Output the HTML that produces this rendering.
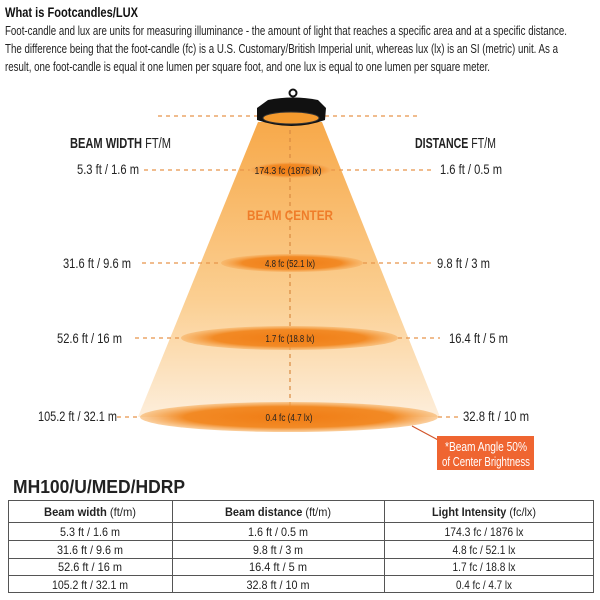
<!DOCTYPE html>
<html><head><meta charset="utf-8"><style>
html,body{margin:0;padding:0;background:#fff;}
svg{display:block;}
text{font-family:"Liberation Sans Narrow","Liberation Sans",sans-serif;}
</style></head><body>
<svg width="600" height="600" viewBox="0 0 600 600" xmlns="http://www.w3.org/2000/svg">
<defs>
<linearGradient id="cone" x1="0" y1="0" x2="0" y2="1">
<stop offset="0" stop-color="#f7a94a"/><stop offset="0.6" stop-color="#fbcf92"/><stop offset="1" stop-color="#fdeedb"/>
</linearGradient>
<radialGradient id="ell" cx="0.5" cy="0.5" r="0.5">
<stop offset="0" stop-color="#f07c14"/><stop offset="0.7" stop-color="#f28a25"/><stop offset="1" stop-color="#f7b060" stop-opacity="0.6"/>
</radialGradient>
</defs>
<text x="5" y="17" font-size="14" font-weight="bold" fill="#111" textLength="133" lengthAdjust="spacingAndGlyphs">What is Footcandles/LUX</text>
<text x="5" y="35" font-size="13" fill="#222" textLength="562" lengthAdjust="spacingAndGlyphs">Foot-candle and lux are units for measuring illuminance - the amount of light that reaches a specific area and at a specific distance.</text>
<text x="5" y="53" font-size="13" fill="#222" textLength="553" lengthAdjust="spacingAndGlyphs">The difference being that the foot-candle (fc) is a U.S. Customary/British Imperial unit, whereas lux (lx) is an SI (metric) unit. As a</text>
<text x="5" y="71" font-size="13" fill="#222" textLength="485" lengthAdjust="spacingAndGlyphs">result, one foot-candle is equal it one lumen per square foot, and one lux is equal to one lumen per square meter.</text>

<polygon points="258,122 322,122 440,417 138,417" fill="url(#cone)"/>
<g stroke="#e8954a" stroke-width="1.2" stroke-dasharray="4,4" fill="none">
<line x1="158" y1="116" x2="258" y2="116"/><line x1="325" y1="116" x2="420" y2="116"/>
<line x1="290" y1="130" x2="290" y2="420" stroke="#d98a40"/>
<line x1="144" y1="170" x2="250" y2="170"/><line x1="331" y1="170" x2="435" y2="170"/>
<line x1="142" y1="263" x2="221" y2="263"/><line x1="363" y1="263" x2="433" y2="263"/>
<line x1="135" y1="338" x2="181" y2="338"/><line x1="398" y1="338" x2="440" y2="338"/>
<line x1="117" y1="417" x2="140" y2="417"/><line x1="438" y1="417" x2="458" y2="417"/>
</g>
<ellipse cx="290.5" cy="170" rx="41" ry="8" fill="url(#ell)"/>
<ellipse cx="292" cy="263" rx="71" ry="9" fill="url(#ell)"/>
<ellipse cx="289.5" cy="338" rx="108.5" ry="12" fill="url(#ell)"/>
<ellipse cx="289" cy="417" rx="149" ry="15" fill="url(#ell)"/>
<circle cx="293" cy="93" r="3.5" fill="none" stroke="#111" stroke-width="2"/>
<path d="M268,100 Q293,95 318,100 L326,108 L325,120 Q292,132 257,120 L257,108 Z" fill="#111"/>
<ellipse cx="291" cy="118" rx="28" ry="6" fill="#f49a2e" stroke="#333" stroke-width="1"/>

<g font-size="10" fill="#222" text-anchor="middle">
<text x="288" y="174" textLength="67" lengthAdjust="spacingAndGlyphs">174.3 fc (1876 lx)</text>
<text x="290" y="267" textLength="50" lengthAdjust="spacingAndGlyphs">4.8 fc (52.1 lx)</text>
<text x="290" y="342" textLength="49" lengthAdjust="spacingAndGlyphs">1.7 fc (18.8 lx)</text>
<text x="289" y="421" textLength="47" lengthAdjust="spacingAndGlyphs">0.4 fc (4.7 lx)</text>
</g>
<text x="290" y="220" font-size="14" font-weight="bold" fill="#ef7d2a" text-anchor="middle" textLength="86" lengthAdjust="spacingAndGlyphs">BEAM CENTER</text>

<text x="70" y="148" font-size="15" fill="#222" textLength="101" lengthAdjust="spacingAndGlyphs"><tspan font-weight="bold">BEAM WIDTH</tspan> FT/M</text>
<text x="415" y="148" font-size="15" fill="#222" textLength="81" lengthAdjust="spacingAndGlyphs"><tspan font-weight="bold">DISTANCE</tspan> FT/M</text>
<g font-size="14" fill="#222">
<text x="77" y="174" textLength="62" lengthAdjust="spacingAndGlyphs">5.3 ft / 1.6 m</text>
<text x="63" y="268" textLength="68" lengthAdjust="spacingAndGlyphs">31.6 ft / 9.6 m</text>
<text x="57" y="343" textLength="65" lengthAdjust="spacingAndGlyphs">52.6 ft / 16 m</text>
<text x="38" y="421" textLength="79" lengthAdjust="spacingAndGlyphs">105.2 ft / 32.1 m</text>
<text x="440" y="174" textLength="62" lengthAdjust="spacingAndGlyphs">1.6 ft / 0.5 m</text>
<text x="437" y="268" textLength="53" lengthAdjust="spacingAndGlyphs">9.8 ft / 3 m</text>
<text x="449" y="343" textLength="59" lengthAdjust="spacingAndGlyphs">16.4 ft / 5 m</text>
<text x="463" y="421" textLength="66" lengthAdjust="spacingAndGlyphs">32.8 ft / 10 m</text>
</g>
<line x1="412" y1="426" x2="440" y2="441" stroke="#d2552a" stroke-width="1.2"/>
<rect x="437" y="436" width="97" height="34" fill="#ef6531"/>
<text x="486" y="451" font-size="13" fill="#fff" text-anchor="middle" textLength="82" lengthAdjust="spacingAndGlyphs">*Beam Angle 50%</text>
<text x="486" y="466" font-size="13" fill="#fff" text-anchor="middle" textLength="88" lengthAdjust="spacingAndGlyphs">of Center Brightness</text>

<text x="13" y="493" font-size="18" font-weight="bold" fill="#222" font-family="Liberation Sans, sans-serif" textLength="172" lengthAdjust="spacingAndGlyphs">MH100/U/MED/HDRP</text>
<g stroke="#555" stroke-width="1" fill="none">
<rect x="8.5" y="500.5" width="585" height="92"/>
<line x1="8" y1="522.5" x2="594" y2="522.5"/>
<line x1="8" y1="540.5" x2="594" y2="540.5"/>
<line x1="8" y1="558.5" x2="594" y2="558.5"/>
<line x1="8" y1="575.5" x2="594" y2="575.5"/>
<line x1="172.5" y1="500" x2="172.5" y2="593"/>
<line x1="384.5" y1="500" x2="384.5" y2="593"/>
</g>
<g font-size="12" fill="#222" text-anchor="middle">
<text x="90" y="516" textLength="92" lengthAdjust="spacingAndGlyphs"><tspan font-weight="bold">Beam width</tspan> (ft/m)</text>
<text x="278" y="516" textLength="106" lengthAdjust="spacingAndGlyphs"><tspan font-weight="bold">Beam distance</tspan> (ft/m)</text>
<text x="484" y="516" textLength="104" lengthAdjust="spacingAndGlyphs"><tspan font-weight="bold">Light Intensity</tspan> (fc/lx)</text>
<text x="90" y="536" textLength="60" lengthAdjust="spacingAndGlyphs">5.3 ft / 1.6 m</text><text x="278" y="536" textLength="60" lengthAdjust="spacingAndGlyphs">1.6 ft / 0.5 m</text><text x="484" y="536" textLength="79" lengthAdjust="spacingAndGlyphs">174.3 fc / 1876 lx</text>
<text x="90" y="554" textLength="66" lengthAdjust="spacingAndGlyphs">31.6 ft / 9.6 m</text><text x="278" y="554" textLength="50" lengthAdjust="spacingAndGlyphs">9.8 ft / 3 m</text><text x="484" y="554" textLength="63" lengthAdjust="spacingAndGlyphs">4.8 fc / 52.1 lx</text>
<text x="90" y="571" textLength="64" lengthAdjust="spacingAndGlyphs">52.6 ft / 16 m</text><text x="278" y="571" textLength="58" lengthAdjust="spacingAndGlyphs">16.4 ft / 5 m</text><text x="484" y="571" textLength="63" lengthAdjust="spacingAndGlyphs">1.7 fc / 18.8 lx</text>
<text x="90" y="589" textLength="76" lengthAdjust="spacingAndGlyphs">105.2 ft / 32.1 m</text><text x="278" y="589" textLength="63" lengthAdjust="spacingAndGlyphs">32.8 ft / 10 m</text><text x="484" y="589" textLength="56" lengthAdjust="spacingAndGlyphs">0.4 fc / 4.7 lx</text>
</g>
</svg>
</body></html>
